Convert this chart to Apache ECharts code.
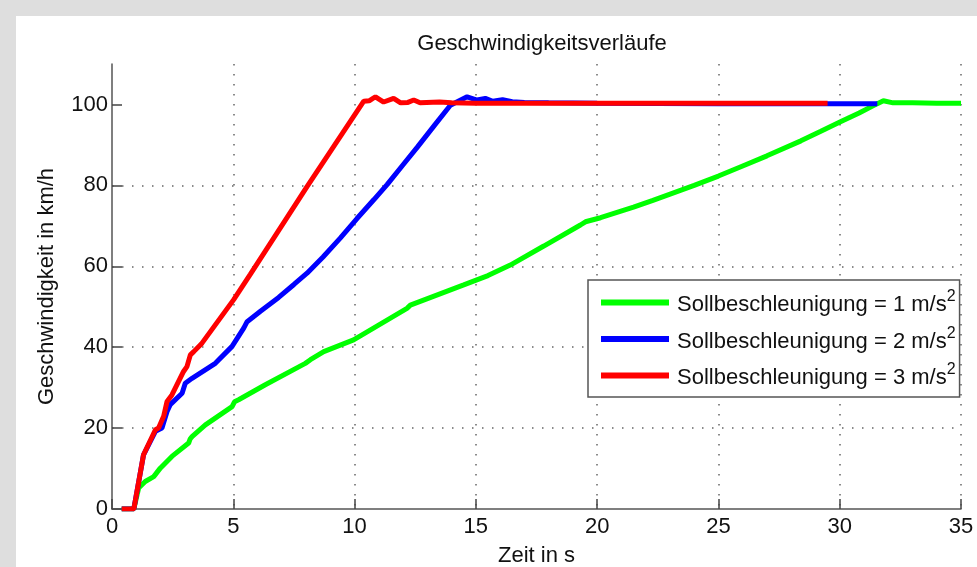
<!DOCTYPE html>
<html>
<head>
<meta charset="utf-8">
<script src="https://cdn.jsdelivr.net/npm/echarts@6/dist/echarts.min.js"></script>
<style>
html,body{margin:0;padding:0;background:#dedede;width:977px;height:567px;overflow:hidden;}
#chart{position:absolute;left:16px;top:16px;width:961px;height:551px;background:#fff;}
</style>
</head>
<body>
<div id="chart"></div>
<script>
const seriesNames = ['Sollbeschleunigung = 1 m/s', 'Sollbeschleunigung = 2 m/s', 'Sollbeschleunigung = 3 m/s'];
const xTicks = [0, 5, 10, 15, 20, 25, 30, 35];
const yTicks = [0, 20, 40, 60, 80, 100];

const timeGreen = [0.4, 0.9, 1.1, 1.37, 1.72, 1.99, 2.47, 3.16, 3.22, 3.30, 3.85, 4.95, 5.05, 5.22, 6.32, 7.97, 8.18, 8.73, 9.96, 12.16, 12.3, 14.5, 15.5, 16.42, 17.8, 19.31, 19.52, 20.14, 21.5, 22.3, 24.0, 25.0, 26.0, 27.0, 28.4, 29.2, 30.03, 30.8, 31.55, 31.8, 32.2, 33, 34, 35];
const speedGreen = [0, 0, 5.2, 6.8, 8.0, 10.1, 13.0, 16.3, 17.3, 17.9, 20.8, 25.3, 26.5, 27.0, 30.7, 36.0, 36.9, 38.9, 41.8, 49.6, 50.4, 55.4, 57.7, 60.3, 65.0, 70.2, 71.0, 72.0, 74.6, 76.3, 80.0, 82.3, 84.8, 87.3, 91.0, 93.3, 95.7, 97.9, 100.2, 100.9, 100.4, 100.4, 100.3, 100.3];

const timeBlue = [0.4, 0.9, 1.30, 1.79, 2.06, 2.27, 2.40, 2.89, 3.02, 3.30, 4.26, 4.95, 5.43, 5.57, 6.12, 6.87, 7.5, 8.04, 8.7, 9.4, 10.1, 10.8, 11.34, 12.0, 12.58, 13.3, 13.95, 14.64, 15.05, 15.39, 15.7, 16.1, 16.5, 17, 18, 20, 25, 31.55];
const speedBlue = [0, 0, 13.4, 19.2, 20.0, 24.1, 25.8, 28.6, 31.1, 32.3, 36.0, 40.2, 44.7, 46.3, 48.9, 52.3, 55.5, 58.3, 62.3, 66.9, 71.8, 76.5, 80.2, 85.1, 89.4, 94.9, 99.8, 101.9, 101.1, 101.5, 100.8, 101.2, 100.7, 100.5, 100.4, 100.3, 100.2, 100.2];

const timeRed = [0.4, 0.9, 1.30, 1.79, 1.92, 2.13, 2.27, 2.47, 2.95, 3.09, 3.23, 3.37, 3.71, 5.01, 5.70, 8.04, 10.38, 10.6, 10.86, 11.2, 11.61, 11.9, 12.2, 12.44, 12.7, 13.5, 14, 15, 20, 29.5];
const speedRed = [0, 0, 13.4, 19.6, 20.0, 22.9, 26.6, 28.2, 34.0, 35.2, 38.1, 38.9, 41.0, 51.7, 58.0, 79.7, 100.8, 100.9, 101.9, 100.6, 101.5, 100.4, 100.5, 101.1, 100.4, 100.6, 100.4, 100.3, 100.3, 100.3];

const zip = (a, b) => a.map((v, i) => [v, b[i]]);
const colors = ['#00ff00', '#0000ff', '#ff0000'];
const datasets = [zip(timeGreen, speedGreen), zip(timeBlue, speedBlue), zip(timeRed, speedRed)];

const FONT = "'Liberation Sans', Arial, sans-serif";
const FS = 22;
const chart = echarts.init(document.getElementById('chart'), null, {renderer: 'canvas'});
chart.setOption({
  animation: false,
  title: {
    text: 'Geschwindigkeitsverläufe',
    left: 521, top: 12, textAlign: 'center',
    textStyle: {fontFamily: FONT, fontSize: FS, fontWeight: 'normal', color: '#111'}
  },
  grid: {left: 96, top: 48, right: 16, bottom: 58, containLabel: false, outerBoundsMode: 'none'},
  xAxis: {
    type: 'value', min: 0, max: 35, interval: 5,
    name: 'Zeit in s', nameLocation: 'middle', nameGap: 36,
    nameTextStyle: {fontFamily: FONT, fontSize: FS, color: '#111'},
    axisLine: {show: true, onZero: false, lineStyle: {color: '#555', width: 1.5}},
    axisTick: {show: true, inside: true, length: 10, lineStyle: {color: '#444', width: 1.5}},
    axisLabel: {fontFamily: FONT, fontSize: FS, color: '#111', margin: 7,
      formatter: v => xTicks.includes(v) ? String(v) : ''},
    splitLine: {show: true, showMinLine: false, showMaxLine: true, lineStyle: {color: '#666', width: 1.5, type: [1.5, 8.5]}}
  },
  yAxis: {
    type: 'value', min: 0, max: 110, interval: 20,
    name: 'Geschwindigkeit in km/h', nameLocation: 'middle', nameGap: 54, nameRotate: 90,
    nameTextStyle: {fontFamily: FONT, fontSize: FS, color: '#111'},
    axisLine: {show: true, lineStyle: {color: '#555', width: 1.5}},
    axisTick: {show: true, inside: true, length: 10, customValues: yTicks, lineStyle: {color: '#444', width: 1.5}},
    axisLabel: {fontFamily: FONT, fontSize: FS, color: '#111', margin: 4, customValues: yTicks},
    splitLine: {show: true, showMinLine: false, showMaxLine: false, lineStyle: {color: '#666', width: 1.5, type: [1.5, 8.5]}}
  },
  legend: {
    orient: 'vertical', left: 572, top: 264,
    backgroundColor: '#fff', borderColor: '#555', borderWidth: 1.5,
    padding: [9, 4, 8, 13], itemGap: 9.5,
    itemWidth: 68, itemHeight: 6, icon: 'rect',
    data: seriesNames,
    formatter: name => '{n|' + name + '}{s|2}',
    textStyle: {
      fontFamily: FONT, color: '#111', padding: [0, 0, 0, 3],
      rich: {
        n: {fontFamily: FONT, fontSize: FS, color: '#111', lineHeight: 27, verticalAlign: 'bottom'},
        s: {fontFamily: FONT, fontSize: 16, color: '#111', lineHeight: 16, verticalAlign: 'top'}
      }
    }
  },
  series: seriesNames.map((n, i) => ({
    name: n, type: 'line', data: datasets[i],
    showSymbol: false, symbol: 'none',
    lineStyle: {color: colors[i], width: 5},
    itemStyle: {color: colors[i]},
    z: 2 + i
  }))
});
</script>
</body>
</html>
